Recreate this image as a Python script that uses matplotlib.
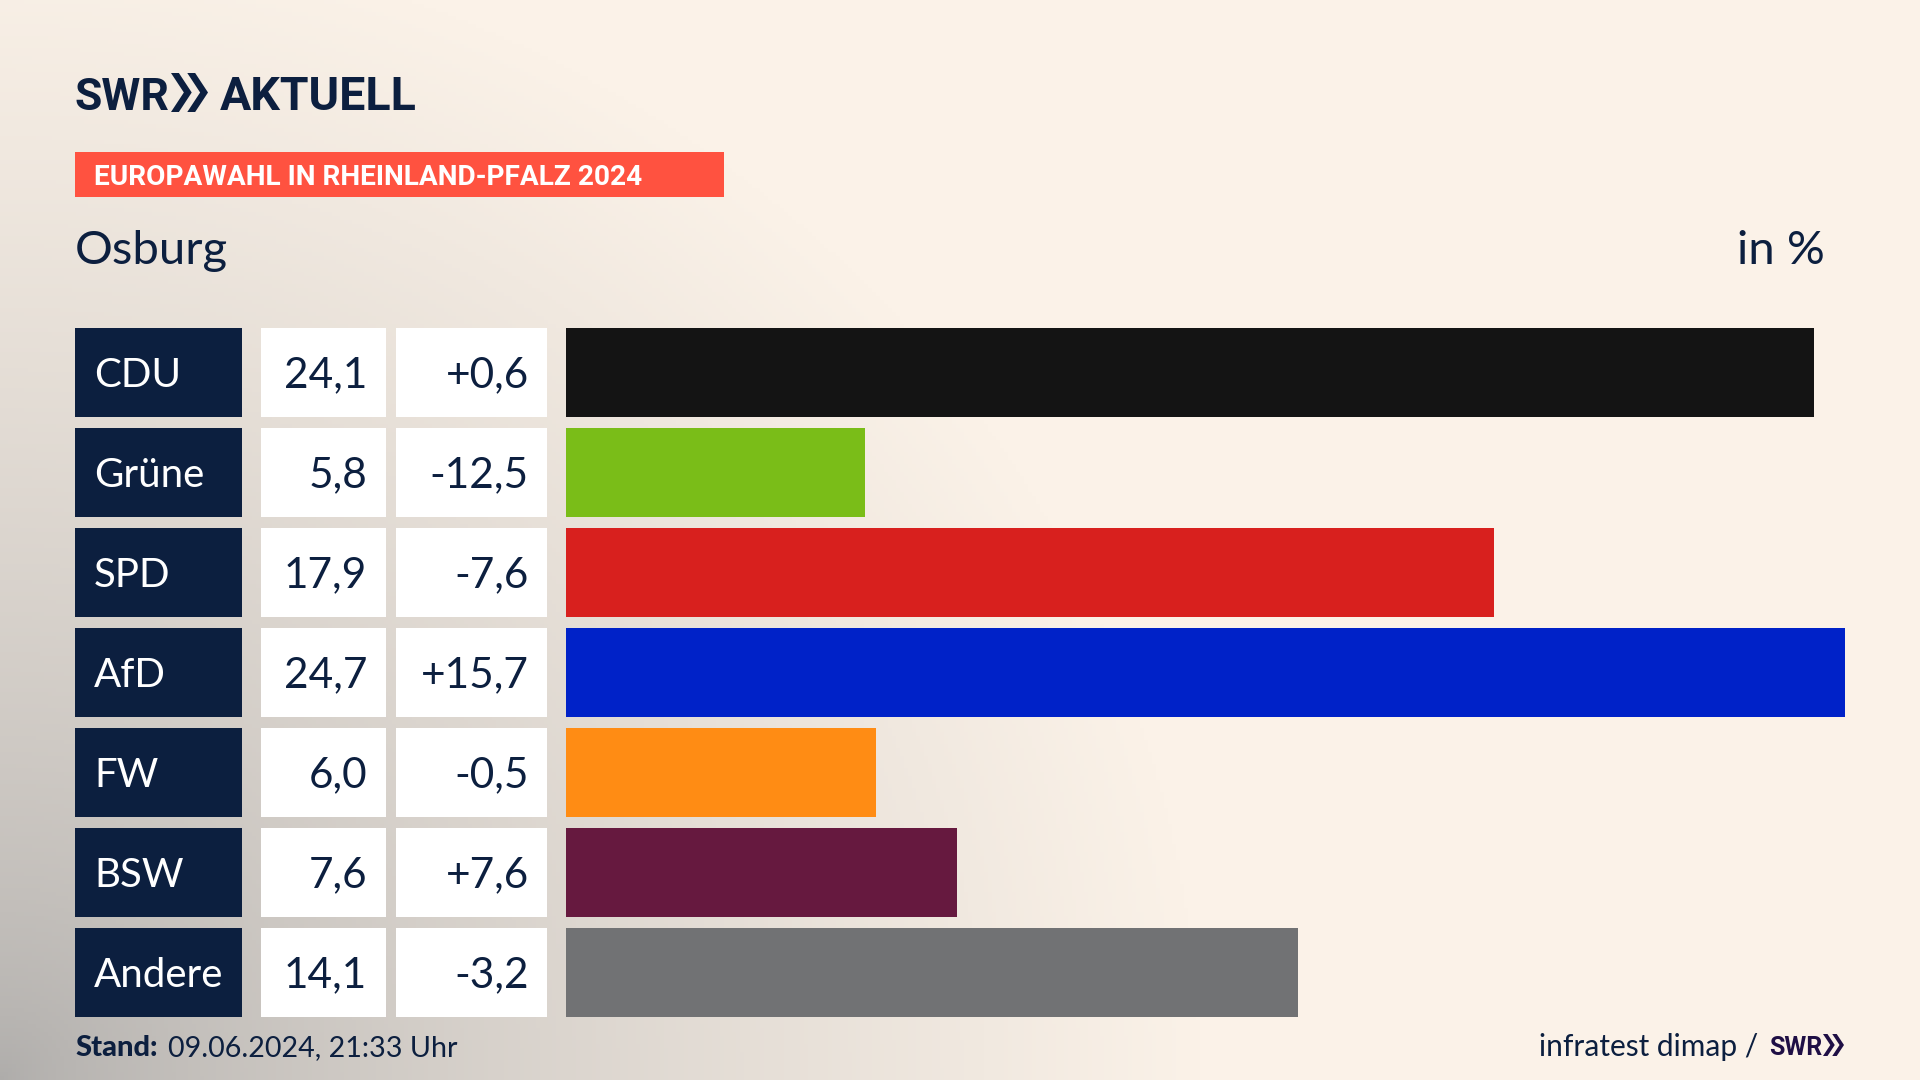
"""Europawahl result chart for Osburg, SWR Aktuell layout."""

import numpy as np
import matplotlib
matplotlib.use("Agg")
import matplotlib.pyplot as plt
from matplotlib import font_manager
from matplotlib.patches import Rectangle, Polygon

parties = ["CDU", "Grüne", "SPD", "AfD", "FW", "BSW", "Andere"]
# bar lengths, the printed labels are rounded
shares = [24.1, 5.77, 17.92, 24.7, 5.98, 7.56, 14.14]
share_labels = ["24,1", "5,8", "17,9", "24,7", "6,0", "7,6", "14,1"]
change_labels = ["+0,6", "-12,5", "-7,6", "+15,7", "-0,5", "+7,6", "-3,2"]
bar_colors = ["#141414", "#7abd18", "#d8201e", "#0022c8", "#ff8c14", "#66193f", "#717274"]

NAVY = "#0c1f3f"
CREAM = np.array([0xfb, 0xf2, 0xe8]) / 255
GREY = np.array([0xae, 0xac, 0xaa]) / 255

installed = {f.name for f in font_manager.fontManager.ttflist}
BODY = "Lato"
NARROW = "Liberation Sans Narrow" if "Liberation Sans Narrow" in installed else "Roboto"

fig = plt.figure(figsize=(19.2, 10.8), dpi=100)

# full figure axes in pixel coordinates, for background and table boxes
ax = fig.add_axes([0, 0, 1, 1])
ax.set_xlim(0, 1920)
ax.set_ylim(1080, 0)
ax.axis("off")

# grey glow from the bottom left corner
xx, yy = np.meshgrid(np.linspace(0, 1920, 480), np.linspace(0, 1080, 270))
t = np.clip(np.sqrt((xx / 1200) ** 2 + ((1080 - yy) / 1150) ** 2), 0, 1)
t = t[..., None] ** 0.7
ax.imshow(CREAM * t + GREY * (1 - t), extent=(0, 1920, 1080, 0), aspect="auto", zorder=0)


def chevrons(x, top, bottom, width, color):
    """Two arrow heads of the SWR logo."""
    mid = (top + bottom) / 2
    w = width * 0.56
    step = width - w
    thick = w * 0.38
    for off in (0, step):
        ax.add_patch(Polygon(
            [(x + off, top), (x + off + thick, top), (x + off + w, mid),
             (x + off + thick, bottom), (x + off, bottom), (x + off + w - thick, mid)],
            closed=True, fc=color, ec="none", zorder=3))


# header
ax.text(75, 110, "SWR", family=NARROW, weight="bold", fontsize=32, color=NAVY, va="baseline")
chevrons(171, 73, 112, 37, NAVY)
ax.text(220, 110, "AKTUELL", family=NARROW, weight="bold", fontsize=33.5, color=NAVY, va="baseline")

ax.add_patch(Rectangle((75, 152), 649, 45, fc="#ff5240", ec="none", zorder=2))
ax.text(94, 185, "EUROPAWAHL IN RHEINLAND-PFALZ 2024", family=NARROW, weight="bold",
        fontsize=20.2, color="white", va="baseline", zorder=3)

ax.text(75, 264, "Osburg", family=BODY, fontsize=34, color=NAVY, va="baseline")
ax.text(1825, 264, "in %", family=BODY, fontsize=34, color=NAVY, va="baseline", ha="right")

# table on the left of the bars
for i, party in enumerate(parties):
    top = 328 + 100 * i
    ax.add_patch(Rectangle((75, top), 167, 89, fc=NAVY, ec="none", zorder=2))
    ax.add_patch(Rectangle((261, top), 125, 89, fc="white", ec="none", zorder=2))
    ax.add_patch(Rectangle((396, top), 151, 89, fc="white", ec="none", zorder=2))
    ax.text(94, top + 59, party, family=BODY, fontsize=29, color="white", va="baseline", zorder=3)
    ax.text(367, top + 59, share_labels[i], family=BODY, fontsize=30.5, color=NAVY,
            va="baseline", ha="right", zorder=3)
    ax.text(529, top + 59, change_labels[i], family=BODY, fontsize=30.5, color=NAVY,
            va="baseline", ha="right", zorder=3)

# bars get their own axes: 0..24.7 spans x 566..1845 px, rows are 100 px apart
ax_bars = fig.add_axes([566 / 1920, 1 - 1022.5 / 1080, 1279 / 1920, 700 / 1080])
ax_bars.barh(range(len(parties)), shares, height=0.885, color=bar_colors)
ax_bars.set_xlim(0, 24.7)
ax_bars.set_ylim(6.5, -0.5)
ax_bars.axis("off")

# footer
ax.text(75, 1056, "Stand:", family=BODY, weight="black", fontsize=21, color=NAVY, va="baseline")
ax.text(168, 1056, "09.06.2024, 21:33 Uhr", family=BODY, fontsize=20.6, color=NAVY, va="baseline")
ax.text(1758, 1056, "infratest dimap /", family=BODY, fontsize=21.5, color=NAVY, va="baseline", ha="right")
ax.text(1769, 1055, "SWR", family=NARROW, weight="bold", fontsize=18, color="#1f0f45", va="baseline")
chevrons(1823, 1034, 1056, 21, "#1f0f45")

fig.savefig("out.png", dpi=100)
